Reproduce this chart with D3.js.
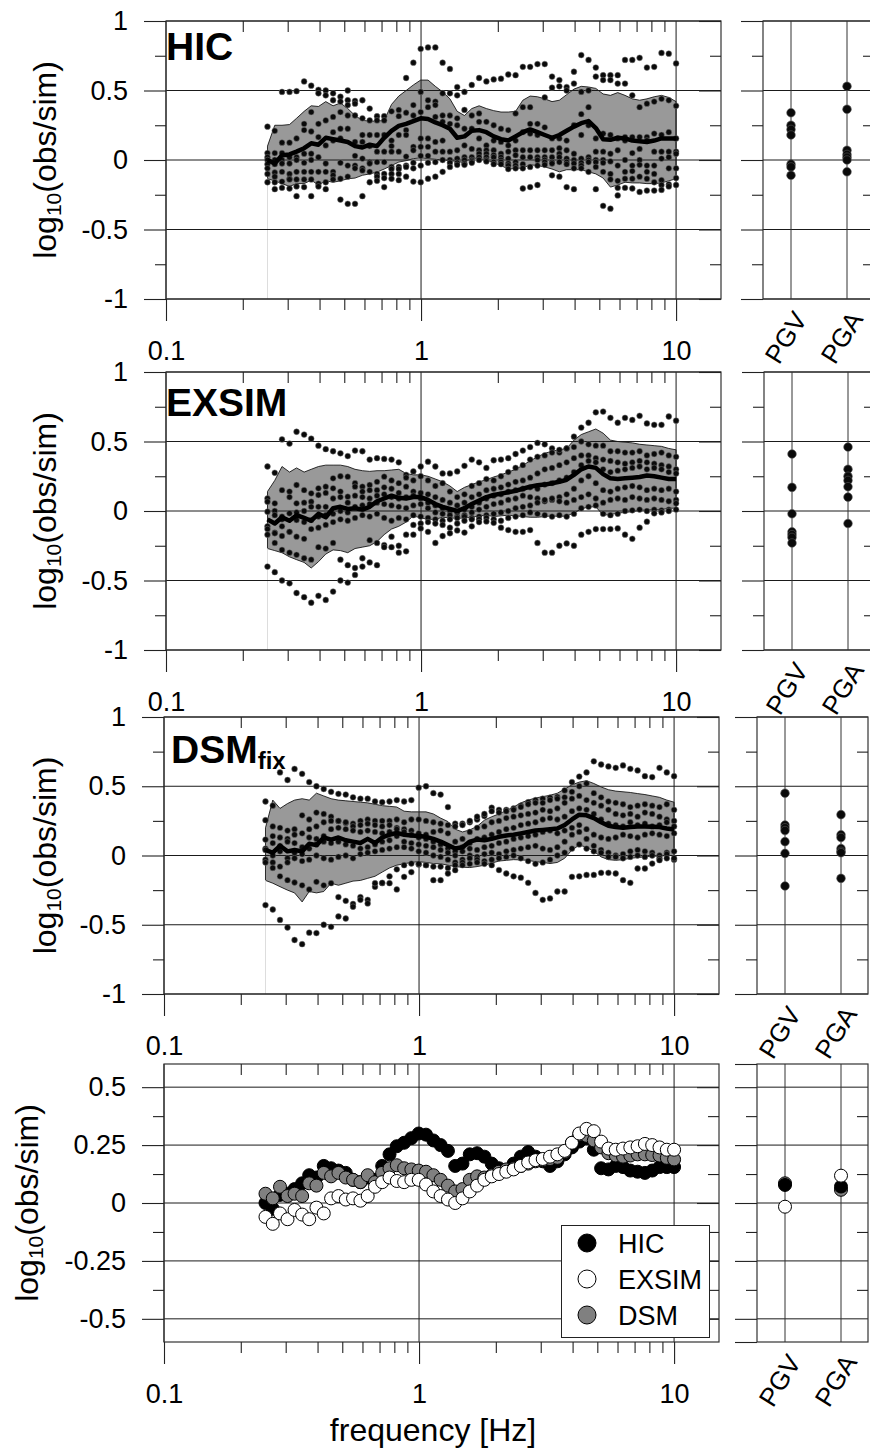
<!DOCTYPE html>
<html>
<head>
<meta charset="utf-8">
<script src="https://cdn.jsdelivr.net/npm/d3@7"></script>
<style>
  body { margin: 0; background: #fff; }
  svg { display: block; font-family: "Liberation Sans", Arial, sans-serif; }
  .axis text { font-size: 27px; font-family: "Liberation Sans", Arial, sans-serif; fill: #000; }
  .axis line { stroke: #222; stroke-width: 1.1; }
</style>
</head>
<body>
<div id="chart"></div>
<script>
// frequencies of the spectral ratios [Hz]
const freqHz = [0.250,0.267,0.285,0.305,0.325,0.348,0.371,0.396,0.423,0.452,
  0.483,0.516,0.551,0.589,0.629,0.672,0.717,0.766,0.818,0.874,
  0.933,0.997,1.065,1.138,1.215,1.298,1.386,1.480,1.581,1.689,
  1.804,1.927,2.058,2.198,2.348,2.507,2.678,2.861,3.055,3.263,
  3.486,3.723,3.977,4.248,4.537,4.845,5.175,5.528,5.904,6.306,
  6.735,7.194,7.684,8.207,8.766,9.363,10.00];

// ---- HIC ----
const hicMean = [0.0,-0.025,0.035,0.04,0.06,0.085,0.12,0.11,0.16,0.15,
  0.14,0.13,0.10,0.09,0.11,0.10,0.16,0.21,0.245,0.26,
  0.28,0.30,0.295,0.27,0.25,0.225,0.16,0.17,0.21,0.215,
  0.20,0.17,0.15,0.14,0.17,0.20,0.22,0.20,0.18,0.16,
  0.18,0.21,0.24,0.265,0.28,0.23,0.15,0.145,0.16,0.155,
  0.14,0.135,0.13,0.14,0.155,0.155,0.155];
const hicUpper = [0.10,0.25,0.25,0.255,0.30,0.35,0.39,0.385,0.42,0.39,
  0.41,0.37,0.32,0.285,0.28,0.28,0.285,0.40,0.46,0.50,
  0.54,0.575,0.575,0.53,0.49,0.44,0.35,0.32,0.37,0.39,
  0.37,0.355,0.345,0.345,0.35,0.43,0.46,0.455,0.44,0.42,
  0.43,0.47,0.51,0.53,0.525,0.515,0.475,0.465,0.485,0.465,
  0.44,0.43,0.44,0.455,0.465,0.45,0.42];
const hicLower = [-0.135,-0.15,-0.17,-0.19,-0.17,-0.17,-0.145,-0.18,-0.15,-0.16,
  -0.15,-0.135,-0.13,-0.11,-0.10,-0.087,-0.065,-0.04,-0.015,-0.005,
  0.01,0.015,0.01,0.005,0.0,-0.005,-0.01,-0.02,0.015,0.01,
  0.0,-0.02,-0.04,-0.065,-0.06,-0.058,-0.035,-0.04,-0.05,-0.065,
  -0.085,-0.07,-0.07,-0.07,-0.085,-0.10,-0.13,-0.195,-0.18,-0.16,
  -0.165,-0.165,-0.17,-0.17,-0.165,-0.15,-0.135];
const hicStations = [
  [0.24,0.21,0.49,0.49,0.495,0.565,0.535,0.505,0.50,0.48,0.455,0.50,0.425,0.43,0.37,0.315,0.315,0.35,0.36,0.59,0.70,0.80,0.81,0.81,0.70,0.655,0.525,0.49,0.54,0.59,0.565,0.58,0.585,0.615,0.61,0.67,0.67,0.69,0.69,0.60,0.575,0.525,0.635,0.755,0.72,0.665,0.61,0.61,0.61,0.72,0.72,0.735,0.665,0.67,0.77,0.765,0.695],
  [0.05,0.05,0.125,0.125,0.155,0.26,0.345,0.48,0.465,0.43,0.42,0.43,0.405,0.30,0.285,0.285,0.285,0.14,0.315,0.34,0.395,0.49,0.43,0.42,0.48,0.48,0.465,0.36,0.32,0.335,0.275,0.25,0.225,0.215,0.335,0.38,0.38,0.26,0.45,0.52,0.53,0.50,0.55,0.49,0.50,0.60,0.575,0.575,0.55,0.55,0.465,0.38,0.405,0.42,0.44,0.43,0.39],
  [0.02,0.0,0.05,0.02,0.02,0.215,0.205,0.26,0.285,0.31,0.345,0.395,0.32,0.18,0.18,0.18,0.18,0.10,0.18,0.215,0.32,0.345,0.38,0.395,0.32,0.32,0.30,0.225,0.225,0.275,0.105,0.14,0.13,0.105,0.14,0.20,0.26,0.18,0.235,0.155,0.155,0.14,0.25,0.33,0.38,0.155,0.19,0.18,0.155,0.165,0.165,0.165,0.165,0.19,0.18,0.20,0.155],
  [0.0,-0.03,0.0,-0.025,0.0,0.045,0.045,0.165,0.105,0.20,0.225,0.32,0.13,0.13,0.10,0.06,0.06,0.06,0.06,0.18,0.095,0.155,0.155,0.31,0.275,0.26,0.25,0.105,0.08,0.155,0.07,0.07,0.045,0.06,0.07,0.07,0.19,0.07,0.07,0.07,0.085,0.07,0.045,0.18,0.25,0.06,0.06,0.045,0.07,0.14,0.05,0.08,0.14,0.06,0.06,0.06,0.06],
  [-0.03,-0.09,-0.025,-0.10,-0.085,-0.02,0.0,0.02,-0.025,0.14,0.155,0.225,0.03,0.01,-0.015,-0.015,-0.015,-0.05,-0.05,0.025,0.07,0.095,0.095,0.13,0.14,0.06,0.07,0.02,0.02,0.07,0.045,0.035,0.02,0.01,0.035,0.02,0.07,0.02,0.02,0.02,0.045,0.01,0.0,0.01,0.02,0.0,0.0,-0.01,-0.04,0.0,-0.04,0.0,-0.04,-0.04,0.01,0.02,0.045],
  [-0.06,-0.12,-0.085,-0.135,-0.14,-0.085,-0.085,-0.085,-0.085,-0.085,-0.02,-0.04,-0.04,-0.06,-0.025,-0.10,-0.10,-0.065,-0.065,-0.04,-0.02,0.03,0.03,0.06,0.06,0.0,0.01,0.0,0.0,0.045,0.02,0.02,0.0,-0.025,-0.015,-0.03,0.02,0.0,0.0,-0.015,0.02,-0.015,-0.025,-0.02,0.0,-0.015,-0.02,-0.10,-0.15,-0.085,-0.08,-0.035,-0.085,-0.10,-0.145,-0.06,-0.06],
  [-0.10,-0.16,-0.155,-0.14,-0.19,-0.14,-0.14,-0.17,-0.16,-0.11,-0.135,-0.12,-0.06,-0.075,-0.085,-0.12,-0.13,-0.10,-0.10,-0.05,-0.06,-0.04,-0.02,-0.015,0.0,-0.02,-0.02,-0.025,-0.01,0.02,0.0,-0.015,-0.015,-0.04,-0.04,-0.06,-0.05,-0.04,-0.015,-0.025,-0.015,-0.03,-0.06,-0.04,-0.015,-0.05,-0.085,-0.14,-0.20,-0.135,-0.135,-0.12,-0.135,-0.16,-0.18,-0.175,-0.13],
  [-0.16,-0.21,-0.20,-0.205,-0.26,-0.195,-0.26,-0.19,-0.21,-0.14,-0.285,-0.315,-0.315,-0.26,-0.16,-0.15,-0.195,-0.135,-0.145,-0.12,-0.155,-0.16,-0.135,-0.12,-0.085,-0.05,-0.035,-0.035,-0.02,0.0,-0.01,-0.03,-0.03,-0.065,-0.06,-0.205,-0.195,-0.18,-0.035,-0.11,-0.12,-0.195,-0.21,-0.06,-0.085,-0.21,-0.33,-0.35,-0.255,-0.20,-0.205,-0.23,-0.22,-0.22,-0.215,-0.19,-0.18]
];
const hicPgv = [0.34,0.25,0.22,0.18,-0.03,-0.05,-0.11];
const hicPga = [0.53,0.365,0.07,0.04,0.02,0.0,-0.085];

// ---- EXSIM ----
const exsimMean = [-0.06,-0.09,-0.045,-0.07,-0.03,-0.05,-0.07,-0.02,-0.045,0.02,
  0.03,0.015,0.02,0.01,0.03,0.07,0.09,0.11,0.095,0.09,
  0.10,0.10,0.08,0.05,0.03,0.015,0.0,0.02,0.05,0.075,
  0.10,0.115,0.125,0.135,0.145,0.16,0.175,0.185,0.19,0.20,
  0.21,0.225,0.26,0.30,0.32,0.31,0.265,0.235,0.23,0.235,
  0.24,0.245,0.255,0.25,0.24,0.23,0.23];
const exsimUpper = [0.14,0.22,0.32,0.28,0.31,0.28,0.30,0.32,0.33,0.33,
  0.33,0.32,0.30,0.29,0.285,0.29,0.29,0.295,0.30,0.27,
  0.26,0.26,0.25,0.23,0.21,0.18,0.14,0.17,0.19,0.21,
  0.225,0.245,0.26,0.28,0.30,0.33,0.36,0.39,0.415,0.43,
  0.44,0.45,0.51,0.55,0.57,0.59,0.56,0.51,0.50,0.495,
  0.49,0.48,0.475,0.47,0.465,0.45,0.44];
const exsimLower = [-0.27,-0.285,-0.30,-0.33,-0.35,-0.37,-0.41,-0.365,-0.31,-0.28,
  -0.285,-0.30,-0.27,-0.26,-0.25,-0.22,-0.17,-0.13,-0.11,-0.08,
  -0.035,-0.05,-0.06,-0.06,-0.045,-0.05,-0.053,-0.05,-0.045,-0.035,
  -0.03,-0.04,-0.035,-0.03,-0.035,-0.04,-0.045,-0.045,-0.04,-0.035,
  -0.04,-0.035,-0.015,0.015,0.03,0.03,-0.03,-0.025,-0.015,-0.01,
  -0.005,0.005,0.007,0.01,0.01,0.02,0.02];
const exsimStations = [
  [0.32,0.275,0.515,0.485,0.57,0.55,0.52,0.47,0.445,0.43,0.415,0.395,0.435,0.43,0.37,0.38,0.375,0.37,0.35,0.26,0.285,0.32,0.355,0.32,0.27,0.27,0.285,0.325,0.37,0.35,0.31,0.365,0.37,0.38,0.41,0.435,0.46,0.49,0.48,0.45,0.42,0.45,0.535,0.60,0.635,0.71,0.715,0.67,0.635,0.67,0.655,0.685,0.63,0.62,0.62,0.68,0.65],
  [0.09,0.055,0.15,0.14,0.187,0.15,0.127,0.163,0.175,0.235,0.25,0.247,0.20,0.175,0.187,0.21,0.247,0.22,0.20,0.24,0.22,0.25,0.22,0.18,0.20,0.14,0.10,0.12,0.18,0.20,0.23,0.22,0.25,0.28,0.31,0.33,0.37,0.39,0.40,0.42,0.44,0.45,0.46,0.50,0.48,0.47,0.47,0.43,0.43,0.42,0.42,0.43,0.40,0.41,0.42,0.40,0.39],
  [0.067,0.0,-0.04,0.10,0.055,0.06,0.067,0.115,0.13,0.163,0.14,0.103,0.175,0.14,0.15,0.15,0.17,0.16,0.13,0.175,0.14,0.13,0.12,0.10,0.08,0.06,0.04,0.06,0.10,0.12,0.15,0.16,0.17,0.19,0.21,0.22,0.24,0.27,0.30,0.31,0.33,0.35,0.38,0.40,0.40,0.38,0.37,0.36,0.35,0.34,0.35,0.36,0.35,0.34,0.33,0.32,0.30],
  [-0.005,-0.03,-0.06,-0.017,-0.01,0.0,0.03,0.03,0.03,0.09,0.10,0.06,0.11,0.10,0.09,0.11,0.12,0.10,0.09,0.10,0.11,0.09,0.06,0.04,0.02,0.0,-0.01,0.01,0.03,0.06,0.09,0.11,0.12,0.14,0.15,0.16,0.17,0.16,0.19,0.20,0.22,0.24,0.28,0.33,0.36,0.35,0.30,0.28,0.29,0.30,0.31,0.32,0.30,0.31,0.30,0.28,0.27],
  [-0.11,-0.155,-0.11,-0.15,-0.065,-0.08,-0.065,-0.04,-0.03,-0.02,0.0,-0.01,0.03,0.04,0.05,0.06,0.05,0.04,0.03,0.02,0.04,0.05,0.02,-0.01,-0.02,-0.03,-0.04,-0.03,-0.01,0.01,0.03,0.05,0.06,0.08,0.09,0.11,0.10,0.09,0.07,0.08,0.10,0.12,0.16,0.22,0.25,0.20,0.15,0.14,0.16,0.17,0.18,0.17,0.15,0.16,0.15,0.16,0.14],
  [-0.13,-0.16,-0.18,-0.15,-0.185,-0.20,-0.13,-0.12,-0.10,-0.08,-0.06,-0.07,-0.05,-0.03,-0.04,-0.02,-0.05,-0.07,-0.05,-0.06,-0.03,-0.04,-0.05,-0.06,-0.07,-0.06,-0.05,-0.04,-0.05,-0.04,-0.03,-0.02,-0.01,0.0,0.02,0.03,0.04,0.06,0.08,0.09,0.07,0.06,0.08,0.10,0.12,0.09,0.06,0.08,0.09,0.08,0.10,0.09,0.08,0.09,0.08,0.07,0.08],
  [-0.17,-0.23,-0.28,-0.30,-0.315,-0.34,-0.35,-0.26,-0.27,-0.23,-0.35,-0.39,-0.41,-0.34,-0.21,-0.23,-0.245,-0.185,-0.25,-0.29,-0.17,-0.09,-0.08,-0.09,-0.10,-0.12,-0.09,-0.07,-0.06,-0.06,-0.05,-0.06,-0.07,-0.05,-0.04,-0.03,-0.01,-0.02,-0.03,-0.04,-0.03,-0.04,-0.02,0.02,0.03,0.04,-0.02,-0.03,-0.02,0.0,0.005,0.01,0.0,0.01,0.005,0.01,0.01],
  [-0.40,-0.44,-0.50,-0.52,-0.59,-0.62,-0.66,-0.61,-0.64,-0.58,-0.50,-0.515,-0.46,-0.40,-0.37,-0.39,-0.26,-0.26,-0.30,-0.17,-0.10,-0.125,-0.15,-0.23,-0.18,-0.16,-0.14,-0.155,-0.11,-0.08,-0.075,-0.085,-0.12,-0.137,-0.15,-0.15,-0.137,-0.23,-0.30,-0.30,-0.25,-0.233,-0.25,-0.17,-0.15,-0.13,-0.13,-0.13,-0.125,-0.17,-0.20,-0.12,-0.077,-0.017,-0.01,0.0,0.055]
];
const exsimPgv = [0.41,0.17,-0.02,-0.15,-0.17,-0.19,-0.23];
const exsimPga = [0.46,0.30,0.25,0.22,0.175,0.10,-0.09];

// ---- DSM (fixed) ----
const dsmMean = [0.04,0.02,0.07,0.03,0.04,0.03,0.085,0.075,0.13,0.115,
  0.13,0.11,0.10,0.09,0.12,0.09,0.13,0.15,0.163,0.15,
  0.145,0.14,0.135,0.12,0.10,0.075,0.05,0.06,0.10,0.115,
  0.11,0.12,0.135,0.145,0.15,0.16,0.17,0.18,0.185,0.19,
  0.195,0.22,0.26,0.295,0.29,0.27,0.24,0.215,0.205,0.20,
  0.205,0.21,0.21,0.207,0.205,0.195,0.188];
const dsmUpper = [0.20,0.40,0.34,0.375,0.40,0.41,0.40,0.45,0.43,0.41,
  0.40,0.395,0.39,0.385,0.38,0.37,0.36,0.355,0.35,0.32,
  0.315,0.315,0.315,0.30,0.27,0.245,0.19,0.17,0.185,0.21,
  0.255,0.28,0.30,0.325,0.35,0.38,0.40,0.415,0.425,0.435,
  0.45,0.48,0.51,0.53,0.54,0.52,0.495,0.475,0.465,0.46,
  0.455,0.447,0.44,0.43,0.42,0.40,0.385];
const dsmLower = [-0.18,-0.20,-0.225,-0.25,-0.27,-0.335,-0.26,-0.27,-0.26,-0.20,
  -0.215,-0.20,-0.185,-0.18,-0.165,-0.15,-0.12,-0.09,-0.07,-0.06,
  -0.05,-0.045,-0.05,-0.058,-0.06,-0.07,-0.08,-0.085,-0.087,-0.08,
  -0.07,-0.055,-0.04,-0.035,-0.03,-0.032,-0.035,-0.045,-0.05,-0.058,
  -0.05,-0.02,0.04,0.075,0.06,0.03,-0.01,-0.03,-0.035,-0.03,
  -0.02,-0.015,-0.01,-0.005,-0.005,0.0,0.0];
const dsmStations = [
  [0.39,0.36,0.60,0.545,0.625,0.59,0.53,0.50,0.48,0.46,0.445,0.44,0.42,0.41,0.41,0.39,0.385,0.39,0.40,0.39,0.40,0.49,0.50,0.45,0.44,0.35,0.23,0.23,0.24,0.26,0.285,0.345,0.33,0.33,0.34,0.36,0.385,0.40,0.41,0.418,0.423,0.47,0.53,0.57,0.60,0.68,0.657,0.643,0.633,0.65,0.626,0.614,0.573,0.566,0.633,0.60,0.573],
  [0.255,0.21,0.20,0.18,0.19,0.29,0.26,0.31,0.30,0.28,0.25,0.235,0.23,0.25,0.26,0.25,0.25,0.25,0.26,0.24,0.26,0.26,0.25,0.24,0.23,0.22,0.21,0.22,0.25,0.28,0.30,0.32,0.31,0.32,0.33,0.35,0.37,0.38,0.38,0.40,0.41,0.42,0.46,0.50,0.52,0.45,0.42,0.39,0.38,0.37,0.35,0.36,0.37,0.36,0.35,0.37,0.33],
  [0.115,0.14,0.13,0.12,0.15,0.16,0.19,0.21,0.24,0.25,0.25,0.24,0.21,0.22,0.23,0.22,0.21,0.22,0.20,0.19,0.18,0.16,0.15,0.17,0.18,0.16,0.10,0.12,0.17,0.20,0.21,0.24,0.25,0.27,0.28,0.29,0.30,0.31,0.33,0.32,0.34,0.38,0.41,0.43,0.40,0.38,0.36,0.33,0.30,0.29,0.30,0.28,0.31,0.30,0.28,0.26,0.25],
  [0.05,0.09,0.07,0.10,0.09,0.06,0.13,0.12,0.14,0.19,0.20,0.19,0.18,0.17,0.18,0.17,0.16,0.17,0.19,0.17,0.15,0.13,0.12,0.10,0.08,0.05,0.03,0.06,0.09,0.12,0.13,0.15,0.17,0.19,0.20,0.22,0.23,0.24,0.26,0.27,0.26,0.28,0.32,0.34,0.33,0.30,0.26,0.23,0.22,0.21,0.24,0.22,0.23,0.21,0.22,0.24,0.21],
  [0.04,0.0,0.03,-0.02,0.02,0.01,0.05,0.08,0.10,0.09,0.10,0.08,0.07,0.05,0.06,0.08,0.10,0.11,0.14,0.10,0.09,0.08,0.07,0.06,0.04,0.02,0.0,0.03,0.05,0.04,0.06,0.07,0.09,0.10,0.12,0.13,0.14,0.15,0.17,0.18,0.16,0.18,0.20,0.22,0.19,0.15,0.13,0.12,0.13,0.15,0.14,0.13,0.15,0.16,0.15,0.14,0.16],
  [-0.03,-0.05,-0.08,-0.05,-0.02,-0.04,-0.03,0.0,-0.02,-0.03,-0.01,0.0,-0.02,0.01,0.02,0.03,0.04,0.05,0.06,0.06,0.05,0.03,0.02,0.0,-0.01,-0.03,-0.05,-0.03,0.0,-0.01,0.01,0.02,0.01,0.03,0.04,0.05,0.06,0.07,0.05,0.04,0.06,0.10,0.15,0.17,0.12,0.07,0.04,0.02,0.0,0.01,0.03,0.04,0.03,0.02,0.0,0.02,0.03],
  [-0.05,-0.09,-0.15,-0.178,-0.195,-0.215,-0.245,-0.19,-0.215,-0.20,-0.30,-0.327,-0.35,-0.30,-0.32,-0.226,-0.20,-0.15,-0.10,-0.07,-0.058,-0.065,-0.07,-0.08,-0.08,-0.09,-0.07,-0.05,-0.02,-0.03,-0.04,-0.03,-0.02,-0.01,0.0,-0.02,-0.04,-0.06,-0.05,-0.03,0.0,0.02,0.05,0.08,0.05,0.03,0.02,-0.01,-0.01,-0.02,-0.01,0.0,-0.01,0.0,-0.02,0.01,-0.03],
  [-0.358,-0.39,-0.465,-0.52,-0.61,-0.64,-0.557,-0.56,-0.50,-0.515,-0.44,-0.455,-0.37,-0.32,-0.346,-0.20,-0.197,-0.20,-0.245,-0.154,-0.12,-0.06,-0.07,-0.178,-0.178,-0.13,-0.106,-0.07,-0.06,-0.05,-0.06,-0.07,-0.105,-0.13,-0.15,-0.16,-0.197,-0.27,-0.32,-0.31,-0.26,-0.26,-0.154,-0.15,-0.14,-0.14,-0.125,-0.125,-0.13,-0.178,-0.197,-0.094,-0.094,-0.058,-0.034,-0.02,-0.02]
];
const dsmPgv = [0.45,0.22,0.20,0.18,0.10,0.015,-0.22];
const dsmPga = [0.295,0.15,0.13,0.05,0.03,0.02,-0.165];

// ---- mean comparison (bottom row) ----
const models = ["HIC", "EXSIM", "DSM"];
const meanPgv = [0.078, -0.016, 0.085];
const meanPga = [0.071, 0.118, 0.057];

// ---- ticks / categories ----
const xTickLabels = [0.1, 1, 10];
const xMinorTicks = [0.2,0.3,0.4,0.5,0.6,0.7,0.8,0.9,2,3,4,5,6,7,8,9];
const yTicksFull = [-1, -0.5, 0, 0.5, 1];
const yMinorFull = [-0.75, -0.25, 0.25, 0.75];
const yTicksMean = [-0.5, -0.25, 0, 0.25, 0.5];
const yMinorMean = [-0.375, -0.125, 0.125, 0.375];
const sideCategories = ["PGV", "PGA"];

const modelFill = { HIC: "#000", EXSIM: "#fff", DSM: "#808080" };
const gridColor = "#1a1a1a";

const svg = d3.select("#chart").append("svg")
    .attr("width", 870)
    .attr("height", 1452);

const rows = [
    { top: 21, bottom: 299, left: 166, side: 763, titleX: 166, titleDy: 39, yTitleX: 56 },
    { top: 372, bottom: 650, left: 166, side: 764, titleX: 166, titleDy: 44, yTitleX: 56 },
    { top: 717, bottom: 994, left: 164, side: 757, titleX: 171, titleDy: 46, yTitleX: 56 },
    { top: 1064, bottom: 1342, left: 164, side: 757, yTitleX: 38 }
];

const panels = [
    { name: "HIC", sub: "", mean: hicMean, upper: hicUpper, lower: hicLower, stations: hicStations, pgv: hicPgv, pga: hicPga },
    { name: "EXSIM", sub: "", mean: exsimMean, upper: exsimUpper, lower: exsimLower, stations: exsimStations, pgv: exsimPgv, pga: exsimPga },
    { name: "DSM", sub: "fix", mean: dsmMean, upper: dsmUpper, lower: dsmLower, stations: dsmStations, pgv: dsmPgv, pga: dsmPga }
];

function noDomain(g) { g.select(".domain").remove(); }

function drawMainFrame(r, x, y, yMajor, yMinor) {
    const right = x.range()[1];
    const g = svg.append("g");

    g.append("g").selectAll("line").data(yMajor).join("line")
        .attr("x1", r.left).attr("x2", right)
        .attr("y1", d => y(d)).attr("y2", d => y(d))
        .attr("stroke", gridColor).attr("stroke-width", 1);
    g.append("g").selectAll("line").data(xTickLabels).join("line")
        .attr("x1", d => x(d)).attr("x2", d => x(d))
        .attr("y1", r.top).attr("y2", r.bottom)
        .attr("stroke", gridColor).attr("stroke-width", 1);
    g.append("rect")
        .attr("x", r.left).attr("y", r.top)
        .attr("width", right - r.left).attr("height", r.bottom - r.top)
        .attr("fill", "none").attr("stroke", "#333").attr("stroke-width", 1.2);

    // left: labelled majors + minors
    g.append("g").attr("class", "axis").attr("transform", "translate(" + r.left + ",0)")
        .call(d3.axisLeft(y).tickValues(yMajor).tickSize(22).tickPadding(16).tickFormat(d => String(d)))
        .call(noDomain);
    g.append("g").attr("class", "axis").attr("transform", "translate(" + r.left + ",0)")
        .call(d3.axisLeft(y).tickValues(yMinor).tickSize(11).tickFormat(""))
        .call(noDomain);
    // right: ticks pointing inwards
    g.append("g").attr("class", "axis").attr("transform", "translate(" + right + ",0)")
        .call(d3.axisLeft(y).tickValues(yMajor).tickSize(22).tickFormat(""))
        .call(noDomain);
    g.append("g").attr("class", "axis").attr("transform", "translate(" + right + ",0)")
        .call(d3.axisLeft(y).tickValues(yMinor).tickSize(11).tickFormat(""))
        .call(noDomain);
    // bottom: labelled decades, minor ticks outward
    g.append("g").attr("class", "axis").attr("transform", "translate(0," + r.bottom + ")")
        .call(d3.axisBottom(x).tickValues(xTickLabels).tickSize(22).tickPadding(20).tickFormat(d => String(d)))
        .call(noDomain);
    g.append("g").attr("class", "axis").attr("transform", "translate(0," + r.bottom + ")")
        .call(d3.axisBottom(x).tickValues(xMinorTicks).tickSize(11).tickFormat(""))
        .call(noDomain);
    // top: minor ticks inward
    g.append("g").attr("class", "axis").attr("transform", "translate(0," + r.top + ")")
        .call(d3.axisBottom(x).tickValues(xMinorTicks).tickSize(11).tickFormat(""))
        .call(noDomain);
}

function drawSideFrame(r, sx, y, yMajor, yMinor) {
    const left = r.side, right = r.side + 111;
    const g = svg.append("g");
    g.append("g").selectAll("line").data(yMajor).join("line")
        .attr("x1", left).attr("x2", right)
        .attr("y1", d => y(d)).attr("y2", d => y(d))
        .attr("stroke", gridColor);
    g.append("g").selectAll("line").data(sideCategories).join("line")
        .attr("x1", d => sx(d)).attr("x2", d => sx(d))
        .attr("y1", r.top).attr("y2", r.bottom)
        .attr("stroke", "#333");
    g.append("rect")
        .attr("x", left).attr("y", r.top)
        .attr("width", right - left).attr("height", r.bottom - r.top)
        .attr("fill", "none").attr("stroke", "#333").attr("stroke-width", 1.2);

    const leftMajor = Array.from(new Set(yMajor.concat(y.domain())));
    g.append("g").attr("class", "axis").attr("transform", "translate(" + left + ",0)")
        .call(d3.axisLeft(y).tickValues(leftMajor).tickSize(22).tickFormat(""))
        .call(noDomain);
    g.append("g").attr("class", "axis").attr("transform", "translate(" + left + ",0)")
        .call(d3.axisLeft(y).tickValues(yMinor).tickSize(11).tickFormat(""))
        .call(noDomain);
    g.append("g").attr("class", "axis").attr("transform", "translate(" + right + ",0)")
        .call(d3.axisLeft(y).tickValues(yMinor).tickSize(11).tickFormat(""))
        .call(noDomain);

    // slanted category labels
    g.selectAll(".cat").data(sideCategories).join("text")
        .attr("transform", d => "translate(" + (sx(d) + 17) + "," + (r.bottom + 20) + ") rotate(-58)")
        .attr("text-anchor", "end")
        .style("font-size", "26px")
        .text(d => d);
}

function drawYTitle(r) {
    const t = svg.append("text")
        .attr("transform", "translate(" + r.yTitleX + "," + ((r.top + r.bottom) / 2) + ") rotate(-90)")
        .attr("text-anchor", "middle")
        .style("font-size", "32px");
    t.append("tspan").text("log");
    t.append("tspan").text("10").style("font-size", "21px").attr("dy", 5);
    t.append("tspan").text("(obs/sim)").attr("dy", -5);
}

// ---- rows 1-3: station ratios, mean and +-1 sigma band ----
panels.forEach((p, k) => {
    const r = rows[k];
    const x = d3.scaleLog().domain([0.1, 15]).range([r.left, r.left + 555]);
    const y = d3.scaleLinear().domain([-1, 1]).range([r.bottom, r.top]);

    const area = d3.area()
        .x((d, i) => x(freqHz[i]))
        .y0((d, i) => y(p.lower[i]))
        .y1((d, i) => y(p.upper[i]));
    svg.append("path").datum(p.mean)
        .attr("d", area)
        .attr("fill", "#999")
        .attr("stroke", "#000")
        .attr("stroke-width", 0.8);
    svg.append("line")
        .attr("x1", x(freqHz[0])).attr("x2", x(freqHz[0]))
        .attr("y1", y(p.lower[0])).attr("y2", r.bottom)
        .attr("stroke", "#ddd");

    drawMainFrame(r, x, y, yTicksFull, yMinorFull);

    p.stations.forEach(st => {
        svg.append("g").selectAll("circle").data(st).join("circle")
            .attr("cx", (d, i) => x(freqHz[i]))
            .attr("cy", d => y(d))
            .attr("r", 2.9)
            .attr("fill", "#0a0a0a")
            .attr("stroke", "#777")
            .attr("stroke-width", 0.5);
    });

    svg.append("path").datum(p.mean)
        .attr("d", d3.line().x((d, i) => x(freqHz[i])).y(d => y(d)))
        .attr("fill", "none")
        .attr("stroke", "#000")
        .attr("stroke-width", 4.5)
        .attr("stroke-linejoin", "round");

    const title = svg.append("text")
        .attr("x", r.titleX).attr("y", r.top + r.titleDy)
        .style("font-size", "39px").style("font-weight", "bold")
        .text(p.name);
    if (p.sub) {
        title.append("tspan").text(p.sub).style("font-size", "24px").attr("dy", 6);
    }

    drawYTitle(r);

    // side panel: PGV / PGA
    const sx = d3.scalePoint().domain(sideCategories).range([r.side + 28, r.side + 84]);
    drawSideFrame(r, sx, y, yTicksFull, yMinorFull);
    [["PGV", p.pgv], ["PGA", p.pga]].forEach(([c, vals]) => {
        svg.append("g").selectAll("circle").data(vals).join("circle")
            .attr("cx", sx(c))
            .attr("cy", d => y(d))
            .attr("r", 4.3)
            .attr("fill", "#0a0a0a")
            .attr("stroke", "#555")
            .attr("stroke-width", 0.6);
    });
});

// ---- row 4: mean ratios of the three methods ----
{
    const r = rows[3];
    const x = d3.scaleLog().domain([0.1, 15]).range([r.left, r.left + 555]);
    const y = d3.scaleLinear().domain([-0.6, 0.6]).range([r.bottom, r.top]);
    drawMainFrame(r, x, y, yTicksMean, yMinorMean);

    const order = [["HIC", hicMean], ["DSM", dsmMean], ["EXSIM", exsimMean]];
    order.forEach(([m, vals]) => {
        svg.append("g").selectAll("circle").data(vals).join("circle")
            .attr("cx", (d, i) => x(freqHz[i]))
            .attr("cy", d => y(d))
            .attr("r", 6.5)
            .attr("fill", modelFill[m])
            .attr("stroke", "#000")
            .attr("stroke-width", 1);
    });

    // legend
    const lg = svg.append("g");
    lg.append("rect")
        .attr("x", 561.5).attr("y", 1225.5).attr("width", 148).attr("height", 112)
        .attr("fill", "#fff").attr("stroke", "#222");
    models.forEach((m, i) => {
        const cy = 1243 + i * 36;
        lg.append("circle").attr("cx", 587).attr("cy", cy).attr("r", 9)
            .attr("fill", modelFill[m]).attr("stroke", "#000");
        lg.append("text").attr("x", 618).attr("y", cy + 10)
            .style("font-size", "27px").text(m);
    });

    drawYTitle(r);

    svg.append("text")
        .attr("x", 433).attr("y", 1441)
        .attr("text-anchor", "middle")
        .style("font-size", "32px")
        .text("frequency [Hz]");

    const sx = d3.scalePoint().domain(sideCategories).range([r.side + 28, r.side + 84]);
    drawSideFrame(r, sx, y, yTicksMean, yMinorMean);
    const sideOrder = [2, 0, 1];
    sideOrder.forEach(k => {
        [["PGV", meanPgv[k]], ["PGA", meanPga[k]]].forEach(([c, v]) => {
            svg.append("circle")
                .attr("cx", sx(c)).attr("cy", y(v)).attr("r", 6.5)
                .attr("fill", modelFill[models[k]])
                .attr("stroke", "#000");
        });
    });
}
</script>
</body>
</html>
